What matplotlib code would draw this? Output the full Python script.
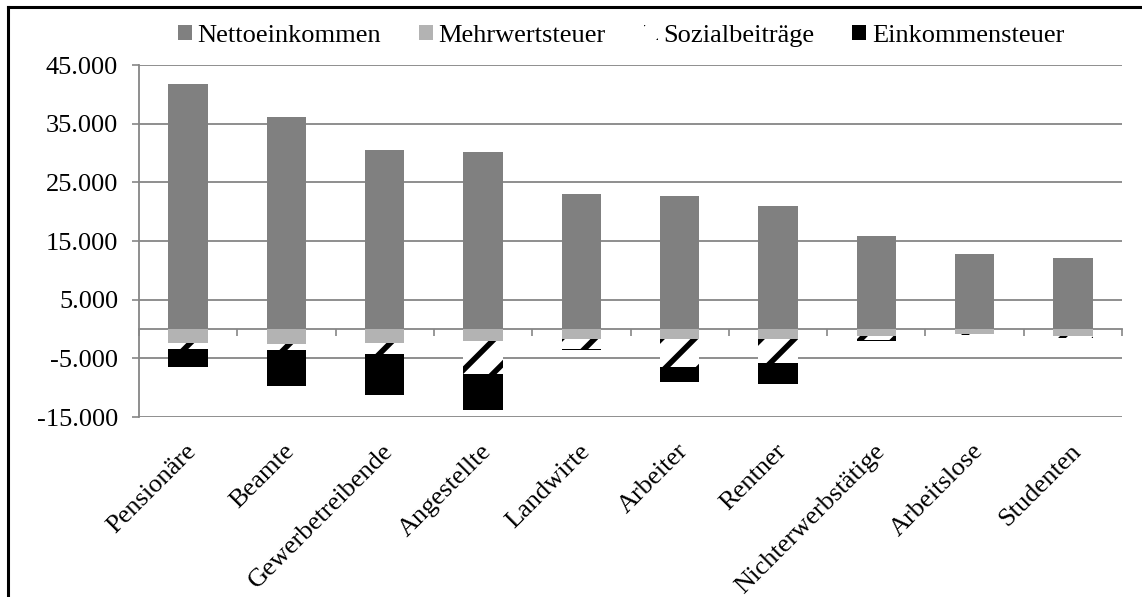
import numpy as np
import matplotlib
matplotlib.use("Agg")
from matplotlib import pyplot as plt
from matplotlib.lines import Line2D
from matplotlib.transforms import blended_transform_factory

plt.rcParams["font.family"] = ["Liberation Serif", "DejaVu Serif"]
plt.rcParams["hatch.linewidth"] = 4.0

## --- data --- ##
categories = ["Pensionäre", "Beamte", "Gewerbetreibende", "Angestellte", "Landwirte",
              "Arbeiter", "Rentner", "Nichterwerbstätige", "Arbeitslose", "Studenten"]
netto = [41750, 36100, 30450, 30250, 23000, 22700, 20900, 15900, 12750, 12100]
mwst = [-2400, -2500, -2400, -2100, -1700, -1700, -1700, -1250, -900, -1200]
sozial = [-950, -1150, -1900, -5600, -1700, -4700, -4100, -550, -150, -250]
est = [-3050, -6050, -7000, -6100, -250, -2700, -3650, -250, -50, -100]
yticks = [45000, 35000, 25000, 15000, 5000, -5000, -15000]

grid_col = "#868686"
fs = 19

fig = plt.figure(figsize=(11.42, 5.97), dpi=100)
ax = fig.add_axes([139 / 1142, 1 - 417 / 597, (1122 - 139) / 1142, (417 - 65) / 597])

x = np.arange(len(categories))
w = 0.4
mwst = np.array(mwst)
sozial = np.array(sozial)
est = np.array(est)

ax.bar(x, netto, w, color="#808080", linewidth=0, label="Nettoeinkommen", zorder=3)
ax.bar(x, mwst, w, color="#b3b3b3", linewidth=0, label="Mehrwertsteuer", zorder=3)
ax.bar(x, sozial, w, bottom=mwst, color="white", edgecolor="black", hatch="/",
       linewidth=0, label="Sozialbeiträge", zorder=3)
ax.bar(x, est, w, bottom=mwst + sozial, color="black", linewidth=0,
       label="Einkommensteuer", zorder=3)

ax.set_xlim(-0.5, len(categories) - 0.5)
ax.set_ylim(-15000, 45000)

# gridlines like the excel chart
ax.set_yticks(yticks)
ax.set_yticklabels([f"{v:,}".replace(",", ".") for v in yticks], fontsize=fs)
ax.yaxis.grid(True, color=grid_col, linewidth=1.3, zorder=0)
ax.tick_params(axis="y", direction="out", length=5, color=grid_col, width=1.2, pad=10)

# category axis sits on zero, ticks between the categories
for s in ["top", "right"]:
    ax.spines[s].set_visible(False)
ax.spines["bottom"].set_position(("data", 0))
ax.spines["bottom"].set_color(grid_col)
ax.spines["bottom"].set_linewidth(1.3)
ax.spines["bottom"].set_zorder(2.5)
ax.spines["left"].set_color(grid_col)
ax.spines["left"].set_linewidth(1.3)
ax.set_xticks(np.arange(-0.5, len(categories), 1.0))
ax.set_xticklabels([])
ax.tick_params(axis="x", direction="out", length=5, color=grid_col, width=1.2)

trans = blended_transform_factory(ax.transData, ax.transAxes)
for i, name in enumerate(categories):
    ax.text(i - 0.03, -0.065, name, transform=trans, rotation=45, rotation_mode="anchor",
            ha="right", va="top", fontsize=fs)

fig.legend(loc="center", bbox_to_anchor=(621 / 1142, 1 - 36 / 597), ncol=4, frameon=False,
           fontsize=fs, handlelength=0.53, handleheight=0.53, handletextpad=0.2,
           columnspacing=1.45, borderpad=0)

# outer frame (left and top edges visible)
fig.add_artist(Line2D([8 / 1142, 8 / 1142], [0, 1 - 7 / 597], color="black", linewidth=2.2,
                      transform=fig.transFigure))
fig.add_artist(Line2D([8 / 1142, 1], [1 - 7 / 597, 1 - 7 / 597], color="black", linewidth=2.2,
                      transform=fig.transFigure))

plt.savefig("out.png", dpi=100)
